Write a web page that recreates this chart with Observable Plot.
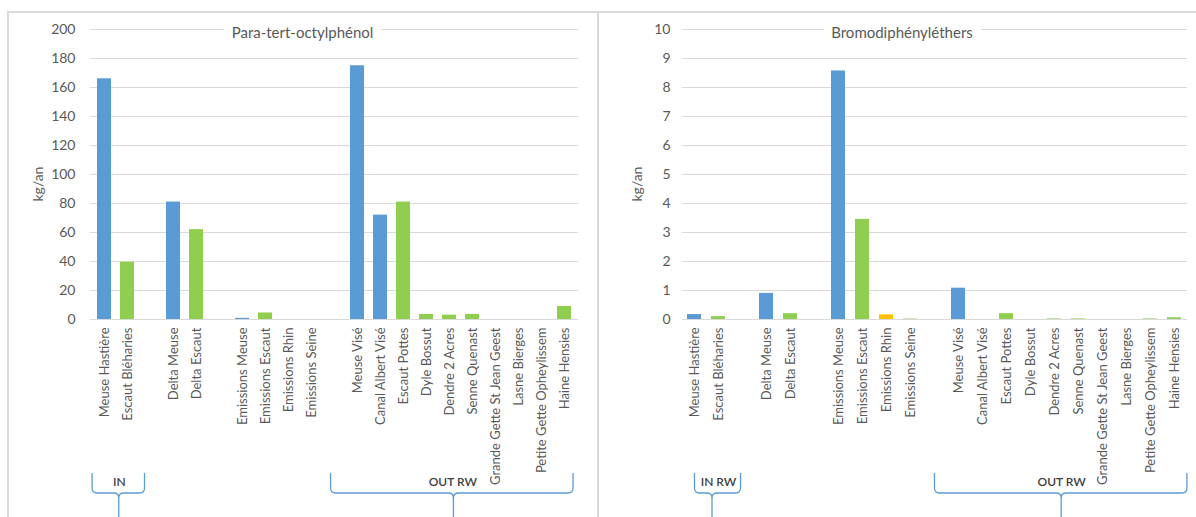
<!DOCTYPE html>
<html><head><meta charset="utf-8">
<script src="https://cdn.jsdelivr.net/npm/d3@7"></script>
<script src="https://cdn.jsdelivr.net/npm/@observablehq/plot@0.6"></script>
<style>
body{margin:0;background:#fff;width:1196px;height:517px;overflow:hidden;position:relative;font-family:Lato,"Open Sans",sans-serif}
.panel{position:absolute;top:0}
.line{position:absolute;background:#d9d9d9}
</style></head><body>
<div class="line" style="left:7px;top:11px;width:1189px;height:1.5px"></div>
<div class="line" style="left:7px;top:11px;width:1.5px;height:506px"></div>
<div class="line" style="left:597px;top:11px;width:1.5px;height:506px"></div>
<div id="left" class="panel" style="left:0"></div>
<div id="right" class="panel" style="left:598px"></div>
<script>
// ---- data ----
const categories = ["Meuse Hastière","Escaut Bléharies","Delta Meuse","Delta Escaut","Emissions Meuse","Emissions Escaut","Emissions Rhin","Emissions Seine","Meuse Visé","Canal Albert Visé","Escaut Pottes","Dyle Bossut","Dendre 2 Acres","Senne Quenast","Grande Gette St Jean Geest","Lasne Bierges","Petite Gette Opheylissem","Haine Hensies"];
const basins = ["Meuse","Escaut","Meuse","Escaut","Meuse","Escaut","Rhin","Seine","Meuse","Meuse","Escaut","Escaut","Escaut","Escaut","Escaut","Escaut","Escaut","Escaut"];
// slot order with blank separators
const slots = ["Meuse Hastière","Escaut Bléharies","_1","Delta Meuse","Delta Escaut","_2","Emissions Meuse","Emissions Escaut","Emissions Rhin","Emissions Seine","_3","Meuse Visé","Canal Albert Visé","Escaut Pottes","Dyle Bossut","Dendre 2 Acres","Senne Quenast","Grande Gette St Jean Geest","Lasne Bierges","Petite Gette Opheylissem","Haine Hensies"];
const octylphenol = [166, 39.5, 81, 62, 0.8, 4.5, 0, 0, 175, 72, 81, 3.5, 3, 3.5, 0, 0, 0, 9];
const bromodiphenylethers = [0.17, 0.1, 0.9, 0.2, 8.57, 3.45, 0.16, 0.03, 1.08, 0, 0.2, 0, 0.02, 0.02, 0, 0, 0.02, 0.06];
const ticksLeft = [0,20,40,60,80,100,120,140,160,180,200];
const ticksRight = [0,1,2,3,4,5,6,7,8,9,10];
const basinNames = ["Meuse","Escaut","Rhin","Seine"];
const basinColors = ["#5b9bd5","#8fce4f","#ffc000","#c9e2a6"];
// brace annotations: label, start slot, end slot, stem slot
const bracesLeft = [["IN",0.09,2.37,1.25],["OUT RW",10.46,21.0,15.8]];
const bracesRight = [["IN RW",0.52,2.44,1.25],["OUT RW",10.52,21.04,15.8]];

function chart(el, values, title, ticks, o, braces) {
  const data = categories.map((c,i)=>({cat:c, v:values[i], basin:basins[i]}));
  const p = Plot.plot({
    width:o.width, height:517,
    marginLeft:o.ml, marginRight:o.mr, marginTop:29, marginBottom:198,
    style:{fontFamily:"Lato, 'Open Sans', sans-serif", fontSize:"12px", color:"#595959", background:"transparent"},
    x:{domain:slots, paddingInner:0.4, paddingOuter:0.2, axis:null},
    y:{domain:[ticks[0], ticks[ticks.length-1]], axis:null},
    color:{domain:basinNames, range:basinColors},
    marks:[
      Plot.gridY(ticks, {stroke:"#d9d9d9", strokeOpacity:1}),
      Plot.axisY(ticks, {tickSize:0, tickPadding:o.tp, fontSize:14, label:null}),
      Plot.axisX({tickSize:0, tickRotate:-90, tickPadding:8, fontSize:13, label:null,
        tickFormat:d => d.startsWith("_") ? "" : d}),
      Plot.barY(data, {x:"cat", y:"v", fill:"basin"}),
      Plot.text([title], {frameAnchor:"top", lineAnchor:"middle", dx:o.tdx, dy:4, fontSize:15,
        fill:"#595959", stroke:"white", strokeWidth:18, paintOrder:"stroke"}),
      Plot.text(["kg/an"], {frameAnchor:"left", rotate:-90, dx:o.ldx, dy:27, fontSize:14, fill:"#595959"})
    ]
  });
  document.getElementById(el).appendChild(p);
  const xs = p.scale("x");
  const r0 = xs.range[0], step = xs.step;
  const svg = d3.select(p);
  const top = 473, hy = 493, bot = 517, rr = 5;
  for (const [label, a, b, s] of braces) {
    const x0 = r0 + a*step, x1 = r0 + b*step, xc = r0 + s*step;
    const path = `M${x0},${top}V${hy-rr}Q${x0},${hy} ${x0+rr},${hy}H${xc-rr}Q${xc},${hy} ${xc},${hy+rr}V${bot}`+
                 `M${xc},${hy+rr}Q${xc},${hy} ${xc+rr},${hy}H${x1-rr}Q${x1},${hy} ${x1},${hy-rr}V${top}`;
    svg.append("path").attr("d", path).attr("fill","none").attr("stroke","#5b9bd5").attr("stroke-width",1.3);
    svg.append("text").attr("x", (x0+x1)/2 + 1).attr("y", 482).attr("text-anchor","middle").attr("dy","0.35em")
      .attr("font-size",12).attr("font-weight",600).attr("fill","#404040").text(label);
  }
}
chart("left", octylphenol, "Para-tert-octylphénol", ticksLeft, {width:597, ml:90, mr:19, tp:15, tdx:-32, ldx:-52}, bracesLeft);
chart("right", bromodiphenylethers, "Bromodiphényléthers", ticksRight, {width:598, ml:84, mr:9, tp:12, tdx:-33, ldx:-45}, bracesRight);
</script>
</body></html>
